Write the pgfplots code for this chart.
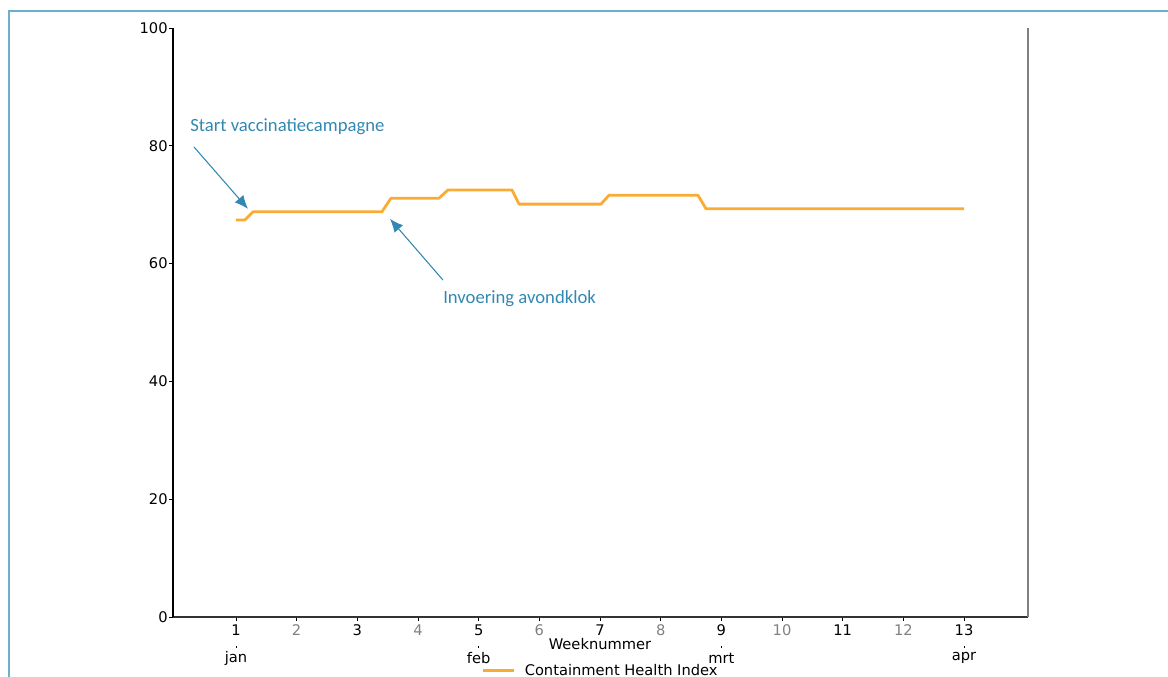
\documentclass[border=0pt]{standalone}
\usepackage{pgfplots}
\pgfplotsset{compat=1.18}
\usetikzlibrary{arrows.meta}
\usepackage{fontspec}
\setmainfont{DejaVu Sans}
\newfontfamily\annfont{Carlito}
\definecolor{lineorange}{RGB}{250,172,50}
\definecolor{annblue}{RGB}{50,136,178}
\definecolor{frameblue}{RGB}{110,175,205}
\definecolor{tickgray}{RGB}{128,128,128}
\begin{document}
\begin{tikzpicture}
\path[use as bounding box] (0,0) rectangle (876pt,507.75pt);
\draw[frameblue,line width=0.9pt] (6.75pt,-5pt) -- (6.75pt,499.5pt) -- (880pt,499.5pt);
\begin{axis}[
  at={(129.75pt,45pt)}, anchor=south west,
  scale only axis, width=641.25pt, height=441.75pt,
  xmin=-0.038, xmax=14.054, ymin=0, ymax=100,
  axis x line*=bottom, axis y line*=left,
  x axis line style={draw=black!80, line width=1pt, -},
  y axis line style={draw=black, line width=1pt, -},
  xtick={1,2,...,13},
  xticklabels={1,\textcolor{tickgray}{2},3,\textcolor{tickgray}{4},5,\textcolor{tickgray}{6},7,\textcolor{tickgray}{8},9,\textcolor{tickgray}{10},11,\textcolor{tickgray}{12},13},
  ytick={0,20,...,100},
  tick align=outside, major tick length=3pt,
  tick style={black, line width=0.6pt},
  ticklabel style={font=\fontsize{11}{13}\selectfont},
  /pgf/number format/assume math mode=true,
  xticklabel style={yshift=1pt},
  yticklabel style={xshift=2.5pt},
  legend style={at={(0.5,-0.092)}, anchor=center, xshift=0.5pt, yshift=0.5pt, draw=none, fill=none,
    font=\fontsize{11}{13}\selectfont, legend columns=1},
  legend image code/.code={\draw[#1, line width=2pt] (0pt,0pt) -- (23pt,0pt); \path (28pt,0pt);},
  clip=false,
]
\addplot[lineorange, line width=2.1pt, line join=round] coordinates {
(1.000,67.4) (1.148,67.4) (1.280,68.8) (3.406,68.8) (3.555,71.1)
(4.346,71.1) (4.494,72.5) (5.549,72.5) (5.665,70.1) (7.016,70.1)
(7.148,71.6) (8.615,71.6) (8.747,69.3) (13.000,69.3)
};
\addlegendentry{Containment Health Index}
\draw[tickgray, line width=1.2pt] (rel axis cs:1,0) -- (rel axis cs:1,1);
% annotations
\node[anchor=west, inner sep=0pt, text=annblue, font=\annfont\fontsize{14}{16}\selectfont] at (axis cs:0.242,83.2) {Start vaccinatiecampagne};
\draw[annblue, line width=0.8pt, -{Latex[length=10pt,width=8.5pt]}] (axis cs:0.308,79.8) -- (axis cs:1.197,69.3);
\node[anchor=west, inner sep=0pt, text=annblue, font=\annfont\fontsize{14}{16}\selectfont] at (axis cs:4.412,54.0) {Invoering avondklok};
\draw[annblue, line width=0.8pt, -{Latex[length=10pt,width=8.5pt]}] (axis cs:4.412,57.2) -- (axis cs:3.538,67.6);
% month labels
\draw[black, line width=0.5pt] ([yshift=-21.5pt]axis cs:1,0) -- ([yshift=-23pt]axis cs:1,0);
\draw[black, line width=0.5pt] ([yshift=-21.5pt]axis cs:5,0) -- ([yshift=-23pt]axis cs:5,0);
\draw[black, line width=0.5pt] ([yshift=-21.5pt]axis cs:9,0) -- ([yshift=-23pt]axis cs:9,0);
\draw[black, line width=0.5pt] ([yshift=-21.5pt]axis cs:13,0) -- ([yshift=-23pt]axis cs:13,0);
\node[font=\fontsize{11}{13}\selectfont, inner sep=0pt] at ([yshift=-31pt]axis cs:1,0) {jan};
\node[font=\fontsize{11}{13}\selectfont, inner sep=0pt] at ([yshift=-31pt]axis cs:5,0) {feb};
\node[font=\fontsize{11}{13}\selectfont, inner sep=0pt] at ([yshift=-31pt]axis cs:9,0) {mrt};
\node[font=\fontsize{11}{13}\selectfont, inner sep=0pt] at ([yshift=-31pt]axis cs:13,0) {apr};
\node[font=\fontsize{11}{13}\selectfont, inner sep=0pt] at ([yshift=-20.25pt]axis cs:7.0,0) {Weeknummer};
\end{axis}
\end{tikzpicture}
\end{document}
